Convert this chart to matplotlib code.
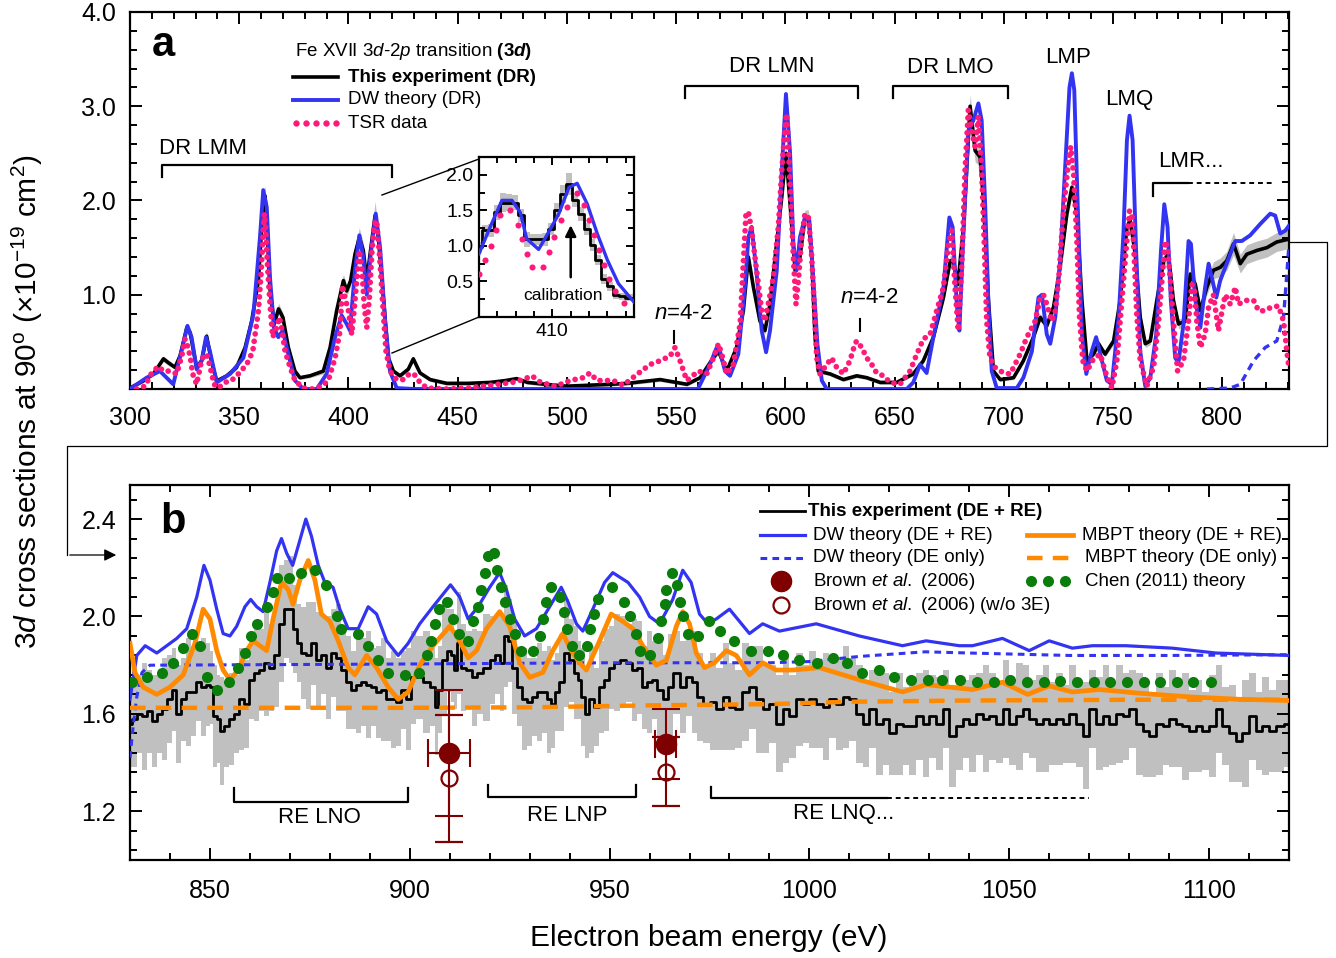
import numpy as np
import matplotlib
matplotlib.use('Agg')
import matplotlib.pyplot as plt
from matplotlib.lines import Line2D
from matplotlib.patches import FancyArrowPatch
from matplotlib.ticker import MultipleLocator, FixedLocator, FormatStrFormatter

plt.rcParams['font.family'] = ['Liberation Sans', 'DejaVu Sans']
plt.rcParams['mathtext.fontset'] = 'custom'
plt.rcParams['mathtext.rm'] = 'Liberation Sans'
plt.rcParams['mathtext.it'] = 'Liberation Sans:italic'
plt.rcParams['mathtext.bf'] = 'Liberation Sans:bold'
try:
    plt.rcParams['mathtext.bfit'] = 'Liberation Sans:italic:bold'
except Exception:
    pass

# ---------------- panel a data ----------------
exp_a_E = [300, 306, 310.7, 315.3, 317.5, 320.6, 322.9, 326, 327.5, 330.5,
           332.8, 335.1, 337.4, 339.7, 344.3, 348.8, 352.7, 355.7, 358.8, 361,
           361.8, 362.6, 364, 366, 368, 370, 372.5, 375.5, 377.8, 382.4,
           388.5, 391.6, 394.6, 397.7, 399.2, 401, 403, 405, 406.8, 408.4,
           409.9, 412.2, 413.7, 416, 418.3, 420.6, 423.6, 427.4, 429.7, 432.8,
           437.4, 445, 455, 465, 472, 477, 482, 490, 500, 510,
           520, 527.6, 535, 542.7, 550, 555, 561, 567, 569.4, 573.2,
           577.7, 580.8, 583.1, 585.4, 588.4, 590.7, 593, 596, 598.4, 600.3,
           602.2, 604.5, 606.7, 609, 610.6, 612.1, 613.6, 615.1, 620.5, 626.6,
           632.7, 637.3, 643.4, 651, 658.6, 663.2, 667.8, 672.4, 675.5, 677,
           679, 681.6, 684.6, 686.9, 689.2, 690.7, 693, 695.3, 698.4, 704.5,
           709, 713.6, 716.7, 719.7, 722.8, 725.8, 728.9, 731.2, 733.5, 735.8,
           738.1, 741.1, 743.4, 746.4, 750.3, 753.3, 756.4, 757.9, 760.2, 762.5,
           764.8, 767.1, 770.1, 773.2, 775.4, 777.7, 780, 783.1, 785.4, 787.7,
           790, 793, 796, 799.1, 802.1, 805.2, 808.3, 811.3, 815.9, 820.5,
           825, 830.5]
exp_a = [0.01, 0.085, 0.16, 0.32, 0.28, 0.23, 0.35, 0.65, 0.6, 0.23,
         0.3, 0.56, 0.28, 0.085, 0.14, 0.23, 0.44, 0.72, 1.15, 2.0,
         2.05, 1.79, 1.08, 0.69, 0.85, 0.76, 0.44, 0.19, 0.12, 0.14,
         0.19, 0.44, 0.83, 1.15, 1.04, 1.15, 1.43, 1.61, 1.47, 1.15,
         1.43, 1.84, 1.61, 0.97, 0.33, 0.19, 0.14, 0.21, 0.32, 0.17,
         0.1, 0.06, 0.06, 0.07, 0.09, 0.11, 0.07, 0.05, 0.03, 0.04,
         0.05, 0.06, 0.08, 0.1, 0.07, 0.05, 0.12, 0.33, 0.4, 0.19,
         0.44, 0.83, 1.4, 1.08, 0.72, 0.62, 0.9, 1.54, 2.04, 2.5,
         1.96, 1.26, 1.4, 1.82, 1.82, 1.4, 0.55, 0.19, 0.16, 0.1,
         0.14, 0.12, 0.07, 0.07, 0.16, 0.3, 0.55, 0.97, 1.36, 1.36,
         1.11, 1.72, 3.0, 2.53, 2.46, 2.0, 0.94, 0.19, 0.1, 0.12,
         0.3, 0.55, 0.76, 0.67, 0.87, 1.29, 1.86, 2.14, 1.86, 0.94,
         0.3, 0.37, 0.48, 0.37, 0.51, 0.94, 1.72, 1.79, 1.43, 0.76,
         0.48, 0.51, 0.94, 1.36, 1.43, 0.94, 0.69, 0.72, 1.22, 1.11,
         0.83, 1.08, 1.26, 1.29, 1.36, 1.54, 1.33, 1.43, 1.47, 1.5,
         1.56, 1.59]
exp_a_err = [0.02, 0.02, 0.02, 0.03, 0.03, 0.02, 0.03, 0.05, 0.04, 0.03,
             0.03, 0.05, 0.03, 0.02, 0.02, 0.03, 0.04, 0.05, 0.06, 0.08,
             0.1, 0.08, 0.06, 0.05, 0.06, 0.05, 0.04, 0.03, 0.02, 0.02,
             0.03, 0.04, 0.05, 0.07, 0.06, 0.06, 0.07, 0.1, 0.08, 0.06,
             0.07, 0.15, 0.08, 0.06, 0.03, 0.02, 0.02, 0.02, 0.03, 0.02,
             0.02, 0.02, 0.02, 0.02, 0.02, 0.02, 0.02, 0.02, 0.02, 0.02,
             0.02, 0.02, 0.02, 0.02, 0.02, 0.02, 0.02, 0.03, 0.03, 0.02,
             0.03, 0.05, 0.07, 0.06, 0.05, 0.04, 0.05, 0.07, 0.08, 0.1,
             0.08, 0.06, 0.07, 0.08, 0.08, 0.06, 0.04, 0.02, 0.02, 0.02,
             0.02, 0.02, 0.02, 0.02, 0.02, 0.03, 0.04, 0.05, 0.06, 0.06,
             0.06, 0.08, 0.12, 0.12, 0.1, 0.08, 0.05, 0.02, 0.02, 0.02,
             0.03, 0.04, 0.04, 0.04, 0.05, 0.06, 0.08, 0.1, 0.08, 0.05,
             0.03, 0.03, 0.04, 0.03, 0.04, 0.05, 0.08, 0.1, 0.07, 0.05,
             0.04, 0.04, 0.05, 0.07, 0.07, 0.05, 0.05, 0.05, 0.07, 0.07,
             0.06, 0.08, 0.09, 0.1, 0.1, 0.12, 0.1, 0.1, 0.1, 0.1,
             0.1, 0.1]

dw_a_E = [300, 307.6, 313.7, 319.8, 324.4, 326.3, 328.2, 330.5, 332.8, 334.8,
          336.6, 339.7, 345.8, 351.9, 356.5, 359.5, 361, 362.6, 364.1, 365.9,
          367.9, 369.9, 372.5, 375.5, 379.4, 385.5, 390, 393.9, 396.9, 399.2,
          400.7, 403, 405, 406.8, 408.4, 410.2, 412.5, 414.5, 416.8, 419,
          422.1, 430, 560, 565.5, 568.6, 570.1, 572.4, 574.7, 578.5, 581.6,
          583.1, 584.6, 586.9, 589.2, 591.2, 593, 596.1, 598.4, 600.3, 602.2,
          603.7, 605.2, 606.7, 609, 611, 612.8, 614.7, 616.7, 619, 655.6,
          658.6, 661.7, 664.7, 667.8, 672.4, 675.1, 676.6, 678.5, 679.7, 681.5,
          683.8, 686.1, 688.4, 689.9, 691.5, 693, 694.5, 696.8, 706, 709,
          712.9, 715.9, 717.5, 719.7, 721.3, 723.6, 725.8, 728.1, 730.1, 731.2,
          732.3, 733.8, 735.8, 737.8, 740.3, 742.3, 744.2, 747.2, 749.5, 752.6,
          754.8, 756.4, 757.6, 759, 760.6, 762.5, 764.8, 767.1, 769.8, 772,
          773.5, 775, 776.5, 778.5, 780, 782.3, 784.6, 785.7, 787.7, 790,
          792.2, 793.8, 795.3, 797.3, 799.1, 801.4, 803.7, 806, 809, 812.8,
          817.4, 822, 824.3, 826.6, 828.9, 830.5]
dw_a = [0.0, 0.12, 0.19, 0.05, 0.48, 0.67, 0.55, 0.21, 0.3, 0.55,
        0.4, 0.07, 0.16, 0.33, 0.79, 1.61, 2.11, 1.93, 1.18, 0.65,
        0.55, 0.62, 0.37, 0.09, 0.0, 0.0, 0.16, 0.55, 0.78, 0.69,
        0.62, 1.26, 1.63, 1.4, 1.0, 1.43, 1.86, 1.5, 0.72, 0.19,
        0.01, 0.0, 0.0, 0.26, 0.44, 0.4, 0.19, 0.14, 0.37, 1.11,
        1.61, 1.72, 1.22, 0.62, 0.39, 0.62, 1.26, 2.32, 3.13, 2.5,
        1.54, 1.26, 1.61, 1.82, 1.79, 1.18, 0.48, 0.09, 0.0, 0.0,
        0.07, 0.26, 0.17, 0.55, 1.08, 1.82, 1.72, 0.9, 0.62, 1.61,
        2.74, 2.85, 3.03, 2.85, 1.96, 0.9, 0.19, 0.01, 0.01, 0.12,
        0.4, 0.97, 1.0, 0.58, 0.48, 0.76, 1.36, 2.35, 3.2, 3.35,
        3.17, 2.0, 0.58, 0.16, 0.4, 0.55, 0.37, 0.09, 0.05, 0.76,
        1.65, 2.64, 2.9, 2.64, 1.47, 0.4, 0.03, 0.12, 0.58, 1.47,
        1.96, 1.72, 0.94, 0.33, 0.28, 0.69, 1.57, 1.54, 0.94, 0.65,
        1.08, 1.33, 1.18, 0.97, 1.15, 1.29, 1.43, 1.57, 1.57, 1.63,
        1.75, 1.86, 1.84, 1.65, 1.68, 1.73]

tsr_E = [303, 306.9, 309.9, 313, 315.3, 318.3, 321.4, 323.7, 325.2, 326.3,
         327.5, 328.7, 330.5, 332.4, 333.9, 335.4, 336.6, 338.5, 340.4, 343.5,
         346.5, 349.6, 353.4, 356.2, 358.8, 360, 361, 361.5, 362.1, 362.9,
         364.1, 365.3, 366.7, 368.4, 369.4, 371, 373.3, 375.5, 379.4, 383.9,
         387.8, 390.8, 393.9, 396.2, 397.2, 398.4, 400, 401.5, 402.6, 403.8,
         405, 406.1, 407.3, 408.4, 409.6, 410.8, 411.9, 412.9, 414.2, 415.7,
         417.2, 419, 422.1, 425.2, 427.9, 430, 432, 435.8, 445, 455,
         465, 475, 480, 484, 488, 495, 501.5, 507.4, 510.6, 513.8,
         521.2, 525.8, 533.5, 538.1, 542.7, 547.3, 549.5, 551.8, 554.9, 560.2,
         564, 567.1, 569.4, 570.9, 573.2, 576.2, 579.3, 580.8, 582, 583.1,
         584.6, 586.1, 587.7, 589.2, 590.7, 592.2, 594.5, 596.8, 598.4, 599.9,
         600.6, 601.4, 602.6, 603.7, 604.9, 606.1, 607.5, 609, 610.6, 612.1,
         613.2, 614.4, 615.9, 619, 621.2, 623.5, 626.6, 629.6, 631.9, 632.7,
         635, 637.3, 639.6, 641.8, 644.9, 648, 652.5, 657.1, 660.2, 663.2,
         666.3, 669.3, 672.4, 674.7, 676.2, 677.7, 679.2, 680.7, 682.3, 683.8,
         685.3, 686.9, 688.4, 689.9, 691, 692.2, 693.7, 696, 699.9, 703,
         707.5, 710.6, 714.4, 716.7, 718.2, 719.7, 722, 723.6, 725.1, 726.6,
         728.1, 729.7, 730.7, 732, 733.5, 734.7, 736.2, 738.1, 741.1, 744.2,
         746.4, 749.5, 751.8, 754.1, 756.1, 757.6, 758.7, 759.7, 760.9, 762.5,
         765.5, 768.6, 770.9, 772.9, 773.9, 775, 776.2, 777.7, 779.6, 782.3,
         784.6, 786.1, 787.2, 788.4, 790, 792.2, 793.8, 796, 798.3, 800.3,
         801.4, 803.7, 806, 807.5, 810.6, 814.4, 816.7, 819, 822.8, 825.8,
         828.1, 829.6, 830.4]
tsr = [0.0, 0.03, 0.17, 0.24, 0.19, 0.19, 0.16, 0.35, 0.53, 0.46,
       0.35, 0.16, 0.05, 0.26, 0.37, 0.35, 0.24, 0.05, 0.01, 0.07,
       0.09, 0.16, 0.26, 0.4, 0.83, 1.22, 1.68, 1.86, 1.72, 1.33,
       0.9, 0.55, 0.62, 0.76, 0.65, 0.4, 0.23, 0.09, 0.01, 0.0,
       0.03, 0.09, 0.33, 0.62, 1.1, 0.97, 0.83, 0.58, 0.83, 1.15,
       1.47, 1.29, 0.87, 0.65, 0.97, 1.47, 1.75, 1.79, 1.43, 0.9,
       0.4, 0.19, 0.1, 0.1, 0.16, 0.16, 0.09, 0.01, 0.0, 0.01,
       0.04, 0.07, 0.1, 0.14, 0.07, 0.03, 0.09, 0.12, 0.17, 0.09,
       0.09, 0.04, 0.18, 0.26, 0.3, 0.35, 0.44, 0.3, 0.09, 0.19,
       0.16, 0.33, 0.48, 0.37, 0.16, 0.26, 0.69, 1.33, 1.86, 1.88,
       1.68, 1.4, 1.11, 0.83, 0.72, 0.9, 1.18, 1.72, 2.32, 2.78,
       2.92, 2.57, 1.96, 1.4, 0.9, 1.18, 1.61, 1.86, 1.82, 1.4,
       0.9, 0.33, 0.16, 0.26, 0.33, 0.23, 0.16, 0.3, 0.48, 0.51,
       0.44, 0.33, 0.26, 0.17, 0.14, 0.07, 0.05, 0.19, 0.37, 0.53,
       0.58, 0.83, 1.08, 1.54, 1.68, 1.08, 0.62, 1.26, 2.32, 2.96,
       2.74, 2.57, 2.89, 2.32, 1.61, 0.72, 0.33, 0.23, 0.17, 0.16,
       0.37, 0.55, 0.72, 0.97, 1.0, 0.9, 0.72, 0.83, 1.15, 1.65,
       2.07, 2.43, 2.57, 2.28, 1.57, 0.76, 0.3, 0.19, 0.32, 0.37,
       0.19, 0.01, 0.3, 0.94, 1.5, 1.89, 1.86, 1.43, 0.79, 0.3,
       0.03, 0.23, 0.72, 1.29, 1.57, 1.5, 1.18, 0.72, 0.19, 0.3,
       0.72, 1.11, 1.08, 0.72, 0.44, 0.58, 0.87, 1.0, 0.62, 0.87,
       1.0, 0.9, 1.08, 0.9, 0.94, 0.94, 0.83, 0.83, 0.87, 0.88,
       0.72, 0.4, 0.26]

dwde_a_E = [793, 803.7, 808.3, 814.4, 819.7, 825, 828.1, 829.6, 830.5]
dwde_a = [0.0, 0.01, 0.05, 0.3, 0.44, 0.51, 0.76, 1.22, 1.5]

# inset (zoom of 402-419 eV)
inset_E = [402.0, 402.7, 403.3, 404.0, 404.6, 405.3, 405.9, 406.6, 407.2, 407.9,
           408.5, 409.2, 409.8, 410.5, 411.1, 411.8, 412.4, 413.1, 413.7, 414.4,
           415.0, 415.7, 416.3, 417.0, 417.6, 418.3, 418.9]
inset_exp = [0.98, 1.22, 1.22, 1.47, 1.61, 1.61, 1.61, 1.43, 1.09, 1.09,
             1.09, 1.09, 1.24, 1.5, 1.73, 1.87, 1.64, 1.45, 1.24, 1.01,
             0.8, 0.54, 0.43, 0.31, 0.29, 0.27, 0.27]
inset_err = [0.08, 0.08, 0.09, 0.1, 0.14, 0.12, 0.1, 0.09, 0.1, 0.08,
             0.08, 0.09, 0.08, 0.1, 0.12, 0.15, 0.1, 0.1, 0.08, 0.08,
             0.07, 0.07, 0.06, 0.05, 0.05, 0.05, 0.05]
inset_dw_E = [402.0, 403.2, 404.5, 405.6, 406.5, 407.2, 408.5, 409.4, 410.7, 411.8,
              412.7, 413.8, 414.9, 416.0, 417.2, 418.9]
inset_dw = [0.89, 1.26, 1.64, 1.64, 1.47, 1.1, 0.95, 1.15, 1.45, 1.82,
            1.88, 1.59, 1.17, 0.8, 0.47, 0.21]
inset_tsr_E = [402.0, 402.7, 403.3, 403.8, 404.3, 405.4, 406.2, 406.7, 407.2, 407.8,
               409.0, 409.6, 410.2, 410.9, 411.6, 412.7, 413.4, 414.0, 414.5, 415.1,
               415.6, 416.2, 416.8, 417.8]
inset_tsr = [0.6, 0.8, 1.0, 1.22, 1.43, 1.5, 1.3, 1.1, 0.89, 0.7,
             0.71, 0.91, 1.12, 1.36, 1.55, 1.75, 1.58, 1.36, 1.15, 0.94,
             0.73, 0.54, 0.36, 0.19]

# ---------------- panel b data ----------------
exp_b_E = [830, 831.25, 832.5, 833.75, 835, 836.25, 837.5, 838.75, 840, 841.25,
           842, 843.3, 844.6, 845.8, 847.1, 848.3, 849.6, 850.4, 851.25, 852.1,
           852.9, 854.2, 855.4, 856.7, 857.9, 859.2, 860.4, 861.7, 862.9, 864.2,
           865.4, 866.7, 867.9, 869.2, 870.4, 871.25, 872.1, 873.3, 874.6, 875.8,
           877.1, 878.3, 879.6, 880.8, 882.1, 883.3, 884.6, 885.8, 887.1, 888.3,
           889.6, 890.8, 892.1, 893.3, 894.6, 895.8, 897.1, 898.3, 899.6, 900.8,
           902.5, 904.2, 905.8, 906.7, 907.5, 908.75, 910, 910.8, 911.5, 912.3,
           913.3, 915, 916.25, 917.5, 919.2, 920.8, 922, 923.3, 924, 925,
           926.25, 927.5, 928.75, 930, 931.25, 932.5, 933.75, 935, 935.8, 936.7,
           937.9, 939.2, 940.4, 941.7, 942.5, 943.3, 944.2, 945.4, 946.7, 947.9,
           949.2, 950.4, 951.7, 953.3, 955, 956.25, 957.5, 958.75, 960, 961.25,
           962.5, 964.2, 965, 966.7, 968.3, 970, 971.25, 972.5, 974.2, 975.8,
           977.5, 979.2, 980.8, 982, 984.2, 985.8, 987.5, 989.2, 990.8, 992.5,
           994.2, 995.8, 997.5, 999.2, 1000.8, 1002.5, 1004.2, 1005.8, 1007.5, 1009.2,
           1010.8, 1012.5, 1014.2, 1015.8, 1017.5, 1019.2, 1020.8, 1022.5, 1024.2, 1025.8,
           1027.5, 1029.2, 1030.8, 1032.5, 1034.2, 1035.8, 1037.5, 1039.2, 1040.8, 1042.5,
           1044.2, 1045.8, 1047.5, 1049.2, 1050.8, 1052.5, 1054.2, 1055.8, 1057.5, 1059.2,
           1060.8, 1062.5, 1064.2, 1065.8, 1067.5, 1069.2, 1070.8, 1072.5, 1074.2, 1075.8,
           1077.5, 1079.2, 1080.8, 1082.5, 1084.2, 1085.8, 1087.5, 1089.2, 1090.8, 1092.5,
           1094.2, 1095.8, 1097.5, 1099.2, 1100.8, 1102.5, 1104.2, 1105.8, 1107.5, 1109.2,
           1110.8, 1112.5, 1114.2, 1115.8, 1117.5, 1120]
exp_b = [1.56, 1.58, 1.6, 1.59, 1.61, 1.57, 1.6, 1.62, 1.66, 1.7,
         1.6, 1.66, 1.69, 1.69, 1.73, 1.71, 1.72, 1.71, 1.59, 1.58,
         1.53, 1.55, 1.58, 1.6, 1.66, 1.64, 1.74, 1.77, 1.78, 1.81,
         1.79, 1.84, 1.97, 2.03, 2.03, 1.95, 1.89, 1.85, 1.84, 1.89,
         1.82, 1.84, 1.79, 1.85, 1.83, 1.78, 1.73, 1.7, 1.72, 1.73,
         1.72, 1.71, 1.69, 1.7, 1.66, 1.66, 1.65, 1.7, 1.66, 1.75,
         1.75, 1.73, 1.71, 1.63, 1.7, 1.82, 1.86, 1.84, 1.78, 1.89,
         1.79, 1.78, 1.75, 1.77, 1.79, 1.82, 1.84, 1.81, 1.92, 1.9,
         1.79, 1.71, 1.66, 1.65, 1.67, 1.69, 1.69, 1.66, 1.64, 1.69,
         1.73, 1.85, 1.82, 1.77, 1.74, 1.67, 1.6, 1.66, 1.63, 1.71,
         1.74, 1.79, 1.81, 1.82, 1.81, 1.78, 1.79, 1.71, 1.73, 1.74,
         1.7, 1.66, 1.71, 1.77, 1.71, 1.75, 1.73, 1.67, 1.64, 1.65,
         1.62, 1.67, 1.63, 1.62, 1.69, 1.71, 1.66, 1.62, 1.64, 1.56,
         1.62, 1.59, 1.66, 1.64, 1.66, 1.64, 1.63, 1.66, 1.64, 1.67,
         1.66, 1.6, 1.56, 1.62, 1.56, 1.58, 1.52, 1.56, 1.55, 1.55,
         1.59, 1.56, 1.59, 1.56, 1.62, 1.51, 1.55, 1.58, 1.56, 1.6,
         1.58, 1.59, 1.56, 1.62, 1.56, 1.59, 1.62, 1.58, 1.56, 1.58,
         1.56, 1.58, 1.56, 1.6, 1.56, 1.51, 1.62, 1.56, 1.59, 1.56,
         1.6, 1.59, 1.62, 1.56, 1.53, 1.51, 1.56, 1.55, 1.58, 1.56,
         1.55, 1.53, 1.55, 1.53, 1.55, 1.62, 1.55, 1.52, 1.49, 1.52,
         1.59, 1.53, 1.55, 1.53, 1.55, 1.56]
exp_b_err = [0.18, 0.2, 0.16, 0.22, 0.17, 0.19, 0.16, 0.21, 0.18, 0.17,
             0.2, 0.17, 0.22, 0.18, 0.16, 0.2, 0.17, 0.15, 0.21, 0.18,
             0.22, 0.17, 0.19, 0.16, 0.21, 0.18, 0.16, 0.2, 0.17, 0.22,
             0.18, 0.21, 0.24, 0.2, 0.22, 0.18, 0.16, 0.19, 0.22, 0.17,
             0.2, 0.16, 0.21, 0.18, 0.22, 0.17, 0.19, 0.16, 0.2, 0.18,
             0.22, 0.16, 0.19, 0.21, 0.17, 0.2, 0.18, 0.16, 0.21, 0.19,
             0.17, 0.21, 0.16, 0.2, 0.18, 0.22, 0.17, 0.19, 0.16, 0.21,
             0.18, 0.16, 0.2, 0.17, 0.22, 0.18, 0.16, 0.2, 0.21, 0.17,
             0.19, 0.16, 0.21, 0.18, 0.16, 0.2, 0.17, 0.22, 0.18, 0.16,
             0.2, 0.22, 0.17, 0.19, 0.16, 0.2, 0.18, 0.22, 0.16, 0.19,
             0.21, 0.17, 0.2, 0.18, 0.16, 0.21, 0.19, 0.17, 0.21, 0.16,
             0.2, 0.18, 0.22, 0.17, 0.19, 0.16, 0.21, 0.18, 0.16, 0.2,
             0.17, 0.22, 0.18, 0.16, 0.2, 0.17, 0.22, 0.18, 0.16, 0.2,
             0.22, 0.17, 0.19, 0.16, 0.2, 0.18, 0.22, 0.16, 0.19, 0.21,
             0.17, 0.2, 0.18, 0.16, 0.21, 0.19, 0.17, 0.21, 0.16, 0.2,
             0.18, 0.22, 0.17, 0.19, 0.16, 0.21, 0.18, 0.16, 0.2, 0.17,
             0.22, 0.18, 0.16, 0.2, 0.17, 0.22, 0.18, 0.16, 0.2, 0.22,
             0.17, 0.19, 0.16, 0.2, 0.18, 0.22, 0.16, 0.19, 0.21, 0.17,
             0.2, 0.18, 0.16, 0.21, 0.19, 0.17, 0.21, 0.16, 0.2, 0.18,
             0.22, 0.17, 0.19, 0.16, 0.21, 0.18, 0.16, 0.2, 0.17, 0.22,
             0.18, 0.16, 0.2, 0.17, 0.19, 0.18]

dw_b_E = [830, 831.7, 833.8, 836.7, 839.2, 841.7, 844.2, 846.7, 848.5, 850,
          851.7, 853.3, 855, 856.7, 858.75, 860.2, 861.7, 863.3, 865, 866.7,
          867.9, 869.2, 870.7, 872.1, 874, 875.4, 877.1, 878.75, 880.8, 882.5,
          884.6, 887.1, 889.6, 891.7, 894.2, 897.1, 899.6, 902.5, 905.8, 910.2,
          912.5, 914.6, 917.1, 920, 922.5, 924.2, 926.25, 928.75, 931.7, 935,
          937.9, 939.6, 941.7, 943.3, 945.8, 948.75, 950.8, 954.6, 957.5, 960,
          962.5, 965.8, 968.3, 970.4, 972.5, 974.6, 976.7, 980, 985, 988.3,
          992.5, 1001.7, 1012.5, 1023.3, 1029.2, 1037.5, 1040.8, 1048.3, 1055, 1060,
          1065.8, 1070.8, 1079.2, 1090.8, 1101.7, 1120]
dw_b = [1.66, 1.84, 1.88, 1.85, 1.88, 1.91, 1.95, 2.08, 2.21, 2.15,
        2.03, 1.93, 1.92, 1.96, 2.04, 2.07, 2.04, 2.02, 2.14, 2.27,
        2.32, 2.26, 2.21, 2.29, 2.4, 2.33, 2.21, 2.14, 2.12, 2.03,
        1.95, 1.95, 2.04, 2.01, 1.9, 1.84, 1.89, 1.97, 2.04, 2.13,
        2.08, 1.99, 2.04, 2.12, 2.18, 2.11, 1.99, 1.92, 1.95, 2.04,
        2.12, 2.06, 1.97, 1.94, 2.03, 2.14, 2.18, 2.14, 2.08, 2.0,
        1.97, 2.07, 2.19, 2.14, 2.01, 1.97, 1.99, 2.03, 1.93, 1.97,
        1.94, 1.97, 1.92, 1.88, 1.9, 1.88, 1.88, 1.91, 1.86, 1.9,
        1.87, 1.88, 1.88, 1.87, 1.85, 1.84]

dwde_b_E = [830, 830.8, 831.7, 833, 835, 900, 950, 990, 1000, 1012.5,
            1029, 1040, 1065, 1090, 1120]
dwde_b = [1.42, 1.55, 1.67, 1.77, 1.8, 1.805, 1.81, 1.81, 1.815, 1.836,
          1.855, 1.85, 1.84, 1.84, 1.843]

mbpt_E = [830, 831.25, 833.3, 836.7, 840, 843.3, 846.25, 848.3, 850, 851.7,
          853.3, 855, 857.1, 859.2, 860.8, 862.5, 864.2, 865.8, 867.9, 869.6,
          870.8, 872.5, 874.6, 876.25, 877.9, 880, 882.1, 884.6, 886.25, 889.2,
          891.7, 894.6, 897.1, 899.6, 902.5, 905.8, 910, 912.5, 914.6, 916.7,
          919.2, 922.5, 925, 927.5, 930, 933.3, 935.8, 938.3, 940.4, 942.5,
          944.2, 947.5, 950.4, 953.3, 955.8, 958.3, 961.7, 964.2, 966.7, 968.3,
          970, 971.7, 973.75, 976.25, 979.2, 981.7, 985, 988.3, 991.7, 995.8,
          1002.5, 1012.5, 1023.3, 1029.2, 1035, 1040.8, 1048.3, 1054.6, 1060, 1065.8,
          1072.5, 1082.5, 1095, 1107.5, 1120]
mbpt = [1.89, 1.77, 1.71, 1.68, 1.71, 1.76, 1.89, 2.03, 1.99, 1.86,
        1.78, 1.74, 1.78, 1.86, 1.9, 1.88, 1.86, 1.99, 2.14, 2.11,
        2.05, 2.15, 2.23, 2.15, 2.01, 1.98, 1.9, 1.79, 1.76, 1.84,
        1.79, 1.71, 1.66, 1.69, 1.8, 1.88, 1.96, 1.9, 1.83, 1.86,
        1.95, 2.02, 1.96, 1.81, 1.75, 1.77, 1.86, 1.93, 1.86, 1.81,
        1.78, 1.9, 2.01, 1.98, 1.95, 1.88, 1.8, 1.82, 1.96, 2.02,
        1.97, 1.85, 1.79, 1.81, 1.86, 1.84, 1.76, 1.81, 1.78, 1.78,
        1.79, 1.74, 1.69, 1.72, 1.71, 1.7, 1.73, 1.68, 1.715, 1.69,
        1.7, 1.685, 1.67, 1.66, 1.655]

mbptde_E = [830, 900, 930, 960, 990, 1010, 1040, 1080, 1120]
mbptde = [1.625, 1.625, 1.627, 1.635, 1.64, 1.65, 1.655, 1.658, 1.658]

chen_E = [830.4, 834.2, 837.9, 840.8, 843.3, 845.4, 847.5, 849.3, 851.8, 854.75,
          857.1, 858.75, 860.25, 861.9, 864.2, 865.7, 866.8, 869.8, 872.9, 876.25,
          879, 881.7, 882.9, 887.1, 889.6, 892.1, 894.6, 898.75, 902.3, 904.2,
          905.4, 906.25, 907.3, 909.3, 910.8, 912.3, 914.6, 915.8, 917.1, 917.9,
          918.75, 919.6, 921, 921.9, 922.75, 923.75, 925, 926.25, 927.9, 930.8,
          932.5, 933.3, 934.2, 935.4, 937.5, 938.5, 939.4, 940.6, 942.25, 944.3,
          945.2, 946, 947.1, 950.7, 953.5, 955.2, 956.5, 957.5, 960.2, 962.1,
          962.9, 963.75, 964.2, 965.6, 966.8, 967.7, 968.3, 969.6, 972.1, 974.8,
          977.75, 981.25, 985.4, 989.6, 993.5, 997.5, 1001.8, 1005.8, 1009.3, 1013.2,
          1017.3, 1021.25, 1025.4, 1029.6, 1033.3, 1037.75, 1041.9, 1046.1, 1050.25, 1054.4,
          1058.6, 1062.75, 1066.9, 1071.1, 1075.25, 1079.4, 1083.6, 1087.75, 1091.9, 1096.1,
          1100.4]
chen = [1.73, 1.75, 1.77, 1.81, 1.87, 1.93, 1.88, 1.75, 1.7, 1.73,
        1.79, 1.85, 1.92, 1.97, 2.04, 2.1, 2.16, 2.16, 2.18, 2.19,
        2.13, 2.0, 1.95, 1.93, 1.88, 1.82, 1.77, 1.76, 1.77, 1.84,
        1.9, 1.97, 2.03, 2.06, 1.99, 1.93, 1.9, 1.98, 2.04, 2.11,
        2.18, 2.25, 2.26, 2.19, 2.12, 2.06, 1.99, 1.93, 1.86, 1.86,
        1.92, 1.99, 2.06, 2.12, 2.08, 2.02, 1.95, 1.88, 1.84, 1.88,
        1.95, 2.01, 2.07, 2.12, 2.06, 2.0, 1.93, 1.86, 1.84, 1.91,
        1.98, 2.05, 2.11, 2.18, 2.13, 2.06, 2.0, 1.93, 1.92, 1.98,
        1.94, 1.9, 1.86, 1.86, 1.84, 1.82, 1.81, 1.83, 1.81, 1.77,
        1.78, 1.75, 1.74, 1.74, 1.74, 1.74, 1.73, 1.73, 1.74, 1.73,
        1.73, 1.735, 1.73, 1.73, 1.73, 1.73, 1.73, 1.73, 1.73, 1.73,
        1.73]

brown_E = [909.8, 964.0]
brown = [1.44, 1.477]
brown_wo3e = [1.335, 1.363]
brown_xerr = [5.2, 2.6]
brown_yerr = [0.26, 0.143]

# ---------------- styling ----------------
BLUE = '#3333f2'
PINK = '#ff1a7a'
ORANGE = '#ff8a00'
GREEN = '#0a7d0a'
DARKRED = '#7f0000'
GRAY = '#c0c0c0'

W, H = 1336, 958
fig = plt.figure(figsize=(W / 100, H / 100), dpi=100)


def fx(px):
    return px / W


def fy(py):
    return 1 - py / H


axa = fig.add_axes([fx(130), fy(389), (1289 - 130) / W, (389 - 12) / H])
axb = fig.add_axes([fx(130), fy(860), (1289 - 130) / W, (860 - 485) / H])
axi = fig.add_axes([fx(479), fy(317), (634 - 479) / W, (317 - 157) / H])

for ax in (axa, axb, axi):
    for s in ax.spines.values():
        s.set_linewidth(1.6)
    ax.tick_params(which='both', direction='in', top=True, right=True,
                   width=1.4, color='k')
    ax.tick_params(which='major', length=8.5)
    ax.tick_params(which='minor', length=5)

# ---- panel a ----
ea = np.array(exp_a)
erra = np.array(exp_a_err)
axa.fill_between(exp_a_E, ea - erra, ea + erra, color=GRAY, lw=0, zorder=1)
axa.plot(exp_a_E, exp_a, color='k', lw=2.6, zorder=2)
axa.plot(dw_a_E, dw_a, color=BLUE, lw=2.8, zorder=3)
axa.plot(tsr_E, tsr, color=PINK, lw=4.1, ls=(0, (0.01, 1.3)),
         dash_capstyle='round', zorder=4)
axa.plot(dwde_a_E, dwde_a, color=BLUE, lw=2.4, ls=(0, (2.2, 1.6)), zorder=3)
axa.set_xlim(300, 830.6)
axa.set_ylim(0, 4.0)
axa.xaxis.set_major_locator(MultipleLocator(50))
axa.xaxis.set_minor_locator(MultipleLocator(10))
axa.yaxis.set_major_locator(FixedLocator([1.0, 2.0, 3.0, 4.0]))
axa.yaxis.set_minor_locator(MultipleLocator(0.2))
axa.yaxis.set_major_formatter(FormatStrFormatter('%.1f'))
axa.tick_params(labelsize=18)
axa.tick_params(axis='x', pad=12)
axa.tick_params(axis='y', pad=10)

# brackets & labels panel a
blw = 1.6
axa.plot([314.5, 314.5, 420, 420], [2.245, 2.38, 2.38, 2.245], color='k', lw=blw)
axa.text(313.5, 2.55, 'DR LMM', fontsize=16, va='center', ha='left')
axa.plot([554, 554, 633.3, 633.3], [3.09, 3.22, 3.22, 3.09], color='k', lw=blw)
axa.text(594, 3.42, 'DR LMN', fontsize=16, va='center', ha='center')
axa.plot([649.4, 649.4, 702, 702], [3.09, 3.22, 3.22, 3.09], color='k', lw=blw)
axa.text(675.5, 3.41, 'DR LMO', fontsize=16, va='center', ha='center')
axa.text(729.5, 3.52, 'LMP', fontsize=16, va='center', ha='center')
axa.text(757.4, 3.07, 'LMQ', fontsize=16, va='center', ha='center')
axa.text(770.5, 2.41, 'LMR...', fontsize=16, va='center', ha='left')
axa.plot([768.4, 768.4, 784.4], [2.05, 2.19, 2.19], color='k', lw=blw)
axa.plot([784.4, 823], [2.19, 2.19], color='k', lw=1.4, ls=(0, (2.5, 2)))
axa.text(553.2, 0.8, r'$\mathit{n}$=4-2', fontsize=16, va='center', ha='center')
axa.plot([549, 549], [0.49, 0.62], color='k', lw=1.5)
axa.text(638.4, 0.97, r'$\mathit{n}$=4-2', fontsize=16, va='center', ha='center')
axa.plot([634.1, 634.1], [0.62, 0.745], color='k', lw=1.5)

# ---- inset ----
ie = np.array(inset_exp)
ier = np.array(inset_err)
axi.fill_between(inset_E, ie - ier, ie + ier, step='mid', color=GRAY, lw=0, zorder=1)
axi.plot(inset_E, inset_exp, color='k', lw=2.0, drawstyle='steps-mid', zorder=2)
axi.plot(inset_dw_E, inset_dw, color=BLUE, lw=2.4, zorder=3)
axi.plot(inset_tsr_E, inset_tsr, 'o', color=PINK, ms=4.4, mew=0, zorder=4)
axi.set_xlim(402.0, 418.9)
axi.set_ylim(0, 2.25)
axi.xaxis.set_major_locator(FixedLocator([410]))
axi.xaxis.set_minor_locator(MultipleLocator(2))
axi.yaxis.set_major_locator(FixedLocator([0.5, 1.0, 1.5, 2.0]))
axi.yaxis.set_minor_locator(MultipleLocator(0.25))
axi.yaxis.set_major_formatter(FormatStrFormatter('%.1f'))
axi.tick_params(labelsize=14, pad=4)
axi.tick_params(which='major', length=6)
axi.tick_params(which='minor', length=4)
axi.annotate('', xy=(412.0, 1.33), xytext=(412.0, 0.52),
             arrowprops=dict(arrowstyle='-|>', color='k', lw=1.8,
                             mutation_scale=16))
axi.text(411.2, 0.3, 'calibration', fontsize=12.5, ha='center', va='center')

# ---- panel b ----
eb = np.array(exp_b)
errb = np.array(exp_b_err)
axb.fill_between(exp_b_E, eb - errb, eb + errb, step='mid', color=GRAY, lw=0, zorder=1)
axb.plot(exp_b_E, exp_b, color='k', lw=2.0, drawstyle='steps-mid', zorder=2)
axb.plot(dwde_b_E, dwde_b, color=BLUE, lw=2.2, ls=(0, (2.2, 1.7)), zorder=3)
axb.plot(mbptde_E, mbptde, color=ORANGE, lw=3.2, ls=(0, (3.5, 2.3)), zorder=3)
axb.plot(dw_b_E, dw_b, color=BLUE, lw=2.3, zorder=4)
axb.plot(mbpt_E, mbpt, color=ORANGE, lw=3.4, zorder=5)
axb.plot(chen_E, chen, 'o', color=GREEN, ms=8, mew=0, zorder=6)
axb.errorbar(brown_E, brown_wo3e, yerr=brown_yerr, fmt='o', ms=11.5,
             mfc='none', mec=DARKRED, mew=1.6, ecolor=DARKRED, elinewidth=1.5,
             capsize=10, capthick=1.5, zorder=7)
axb.errorbar(brown_E, brown, xerr=brown_xerr, yerr=brown_yerr, fmt='o', ms=14.5,
             color=DARKRED, elinewidth=1.5, capsize=10, capthick=1.5, zorder=8)
axb.set_xlim(830, 1120)
axb.set_ylim(1.0, 2.54)
axb.xaxis.set_major_locator(MultipleLocator(50))
axb.xaxis.set_minor_locator(MultipleLocator(10))
axb.yaxis.set_major_locator(FixedLocator([1.2, 1.6, 2.0, 2.4]))
axb.yaxis.set_minor_locator(MultipleLocator(0.08))
axb.yaxis.set_major_formatter(FormatStrFormatter('%.1f'))
axb.tick_params(labelsize=18)
axb.tick_params(axis='x', pad=14)
axb.tick_params(axis='y', pad=10)

axb.plot([856, 856, 899.6, 899.6], [1.295, 1.238, 1.238, 1.295], color='k', lw=blw)
axb.text(877.5, 1.176, 'RE LNO', fontsize=16, ha='center', va='center')
axb.plot([919.5, 919.5, 956.5, 956.5], [1.308, 1.258, 1.258, 1.308], color='k', lw=blw)
axb.text(939.3, 1.184, 'RE LNP', fontsize=16, ha='center', va='center')
axb.plot([975.4, 975.4, 1019.5], [1.30, 1.254, 1.254], color='k', lw=blw)
axb.plot([1019.5, 1070], [1.254, 1.254], color='k', lw=1.4, ls=(0, (2.5, 2)))
axb.text(1008.5, 1.193, 'RE LNQ...', fontsize=16, ha='center', va='center')

# ---------------- figure-level text, legends, connectors ----------------
fig.text(fx(152), fy(45), 'a', fontsize=30, fontweight='bold', ha='left', va='center')
fig.text(fx(160), fy(522), 'b', fontsize=30, fontweight='bold', ha='left', va='center')

LFS = 13.5
fig.text(fx(295), fy(52),
         r'Fe XVII 3$\mathit{d}$-2$\mathit{p}$ transition $\mathbf{(3}\mathbfit{d}\mathbf{)}$',
         fontsize=LFS, ha='left', va='center')


def hline(x0, x1, y, **kw):
    fig.add_artist(Line2D([fx(x0), fx(x1)], [fy(y), fy(y)],
                          transform=fig.transFigure, **kw))


hline(293, 338, 77, color='k', lw=2.6)
fig.text(fx(348), fy(77), 'This experiment (DR)', fontsize=LFS, fontweight='bold',
         ha='left', va='center')
hline(293, 338, 100, color=BLUE, lw=2.8)
fig.text(fx(348), fy(100), 'DW theory (DR)', fontsize=LFS, ha='left', va='center')
fig.add_artist(Line2D([fx(x) for x in (296, 306, 316, 326, 336)], [fy(123)] * 5,
                      transform=fig.transFigure, ls='none', marker='o', ms=4.6,
                      mew=0, color=PINK))
fig.text(fx(348), fy(123), 'TSR data', fontsize=LFS, ha='left', va='center')

# panel b legend
hline(760, 805, 511, color='k', lw=2.0)
fig.text(fx(808), fy(511), 'This experiment (DE + RE)', fontsize=LFS,
         fontweight='bold', ha='left', va='center')
hline(760, 805, 535, color=BLUE, lw=2.3)
fig.text(fx(813), fy(535), 'DW theory (DE + RE)', fontsize=LFS, ha='left', va='center')
hline(760, 805, 558, color=BLUE, lw=2.2, ls=(0, (2.2, 1.7)))
fig.text(fx(813), fy(558), 'DW theory (DE only)', fontsize=LFS, ha='left', va='center')
fig.add_artist(Line2D([fx(781)], [fy(581)], transform=fig.transFigure, ls='none',
                      marker='o', ms=14.5, color=DARKRED))
fig.text(fx(813), fy(581), r'Brown $\mathit{et\ al.}$ (2006)', fontsize=LFS,
         ha='left', va='center')
fig.add_artist(Line2D([fx(781)], [fy(605)], transform=fig.transFigure, ls='none',
                      marker='o', ms=11.5, mfc='none', mec=DARKRED, mew=1.6))
fig.text(fx(813), fy(605), r'Brown $\mathit{et\ al.}$ (2006) (w/o 3E)', fontsize=LFS,
         ha='left', va='center')
hline(1027, 1073, 535, color=ORANGE, lw=3.4)
fig.text(fx(1082), fy(535), 'MBPT theory (DE + RE)', fontsize=LFS, ha='left', va='center')
hline(1027, 1073, 558, color=ORANGE, lw=3.2, ls=(0, (3.5, 2.3)))
fig.text(fx(1085), fy(558), 'MBPT theory (DE only)', fontsize=LFS, ha='left', va='center')
fig.add_artist(Line2D([fx(x) for x in (1031, 1048, 1065)], [fy(581)] * 3,
                      transform=fig.transFigure, ls='none', marker='o', ms=8,
                      mew=0, color=GREEN))
fig.text(fx(1085), fy(581), 'Chen (2011) theory', fontsize=LFS, ha='left', va='center')

# axis labels
fig.text(fx(709), fy(938), 'Electron beam energy (eV)', fontsize=21.5,
         ha='center', va='center')
fig.text(fx(27), fy(402),
         r'3$\mathit{d}$ cross sections at 90$^{\mathrm{o}}$ ($\times$10$^{-19}$ cm$^{2}$)',
         fontsize=21.5, rotation=90, ha='center', va='center')

# connector from panel a to panel b
pts = [(1290, 242), (1327, 242), (1327, 446), (67, 446), (67, 555)]
fig.add_artist(Line2D([fx(p[0]) for p in pts], [fy(p[1]) for p in pts],
                      transform=fig.transFigure, color='k', lw=0.9))
fig.add_artist(FancyArrowPatch((fx(67), fy(555)), (fx(119), fy(555)),
                               transform=fig.transFigure, arrowstyle='-|>',
                               mutation_scale=18, color='k', lw=0.9))

# inset connectors
fig.add_artist(Line2D([fx(382), fx(479)], [fy(195), fy(159)],
                      transform=fig.transFigure, color='k', lw=1.0))
fig.add_artist(Line2D([fx(392), fx(479)], [fy(353), fy(317)],
                      transform=fig.transFigure, color='k', lw=1.0))

fig.savefig('out.png', dpi=100)
